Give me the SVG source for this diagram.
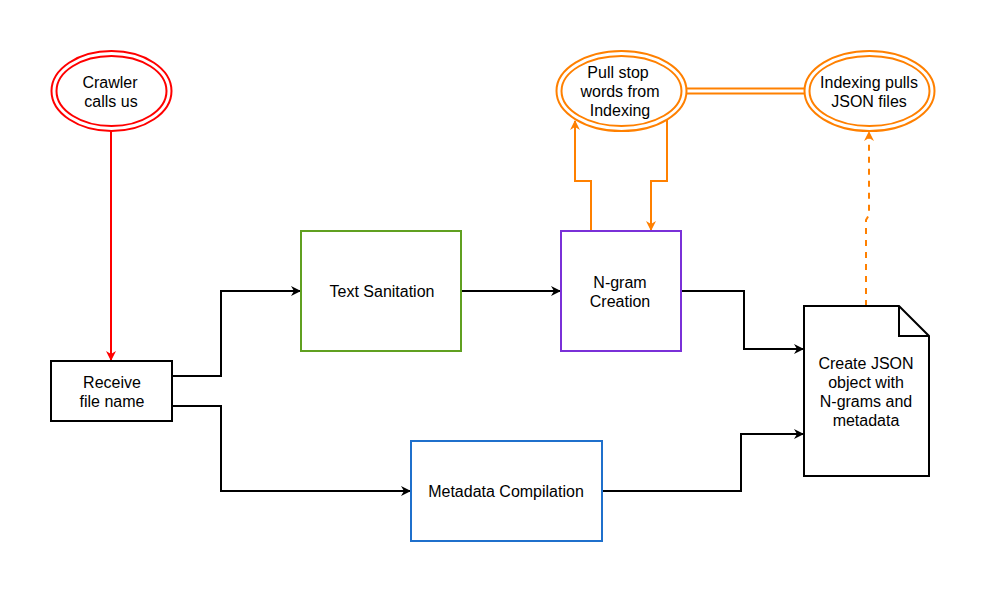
<svg xmlns="http://www.w3.org/2000/svg" width="985" height="592" viewBox="0 0 985 592">
<defs>
<style>
text{font-family:"Liberation Sans",Arial,sans-serif;font-size:16px;fill:#000;text-anchor:middle}
.box{fill:#fff;stroke-width:2}
.c{fill:none;stroke-width:2}
</style>
<marker id="ak" viewBox="0 0 10 10" refX="9" refY="5" markerWidth="11" markerHeight="10" orient="auto" markerUnits="userSpaceOnUse"><path d="M0,0 L10,5 L0,10 L3,5 Z" fill="#000"/></marker>
<marker id="ar" viewBox="0 0 10 10" refX="9" refY="5" markerWidth="11" markerHeight="10" orient="auto" markerUnits="userSpaceOnUse"><path d="M0,0 L10,5 L0,10 L3,5 Z" fill="#ff0000"/></marker>
<marker id="ao" viewBox="0 0 10 10" refX="9" refY="5" markerWidth="11" markerHeight="10" orient="auto" markerUnits="userSpaceOnUse"><path d="M0,0 L10,5 L0,10 L3,5 Z" fill="#ff8000"/></marker>
</defs>
<rect width="985" height="592" fill="#fff"/>
<g id="connectors">
<path class="c" stroke="#ff0000" d="M111,131 V360" marker-end="url(#ar)"/>
<path class="c" stroke="#000" d="M172,376 H221 V291 H300" marker-end="url(#ak)"/>
<path class="c" stroke="#000" d="M172,406 H221 V491 H410" marker-end="url(#ak)"/>
<path class="c" stroke="#000" d="M461,291 H560" marker-end="url(#ak)"/>
<path class="c" stroke="#000" d="M681,291 H744 V349 H803" marker-end="url(#ak)"/>
<path class="c" stroke="#000" d="M602,491 H741 V434 H803" marker-end="url(#ak)"/>
<path class="c" stroke="#ff8000" d="M591,231 V181 H575 V121" marker-end="url(#ao)"/>
<path class="c" stroke="#ff8000" d="M667,120 V181 H651 V230" marker-end="url(#ao)"/>
<path class="c" stroke="#ff8000" stroke-dasharray="6,6" d="M866,306 V220 L869,215 V132" marker-end="url(#ao)"/>
<path fill="none" stroke="#ff8000" stroke-width="7" d="M686,91 H805"/>
<path fill="none" stroke="#fff" stroke-width="3" d="M686,91 H805"/>
</g>
<g id="crawler">
<ellipse cx="111.5" cy="91" rx="60" ry="40" fill="#fff" stroke="#ff0000" stroke-width="2"/>
<ellipse cx="111.5" cy="91" rx="55" ry="35" fill="none" stroke="#ff0000" stroke-width="2"/>
<text x="110" y="88">Crawler</text><text x="111" y="107">calls us</text>
</g>
<g id="pullstop">
<ellipse cx="621.5" cy="91" rx="65" ry="40" fill="#fff" stroke="#ff8000" stroke-width="2"/>
<ellipse cx="621.5" cy="91" rx="60" ry="35" fill="none" stroke="#ff8000" stroke-width="2"/>
<text x="618" y="78">Pull stop</text><text x="620" y="97">words from</text><text x="620" y="116">Indexing</text>
</g>
<g id="indexing">
<ellipse cx="869.5" cy="91" rx="65" ry="40" fill="#fff" stroke="#ff8000" stroke-width="2"/>
<ellipse cx="869.5" cy="91" rx="60" ry="35" fill="none" stroke="#ff8000" stroke-width="2"/>
<text x="869" y="88">Indexing pulls</text><text x="869" y="107">JSON files</text>
</g>
<g id="receive">
<rect class="box" x="51" y="361" width="121" height="60" stroke="#000"/>
<text x="112" y="388">Receive</text><text x="112" y="407">file name</text>
</g>
<g id="sanitation">
<rect class="box" x="301" y="231" width="160" height="120" stroke="#60a020"/>
<text x="382" y="297">Text Sanitation</text>
</g>
<g id="ngram">
<rect class="box" x="561" y="231" width="120" height="120" stroke="#7a30d8"/>
<text x="620" y="288">N-gram</text><text x="620" y="307">Creation</text>
</g>
<g id="metadata">
<rect class="box" x="411" y="441" width="191" height="100" stroke="#1f70cc"/>
<text x="506" y="497">Metadata Compilation</text>
</g>
<g id="json">
<path d="M804,306 H899 L929,336 V476 H804 Z" fill="#fff" stroke="#000" stroke-width="2"/>
<path d="M899,306 V336 H929" fill="none" stroke="#000" stroke-width="2"/>
<text x="866" y="369">Create JSON</text><text x="866" y="388">object with</text><text x="866" y="407">N-grams and</text><text x="866" y="426">metadata</text>
</g>
</svg>
